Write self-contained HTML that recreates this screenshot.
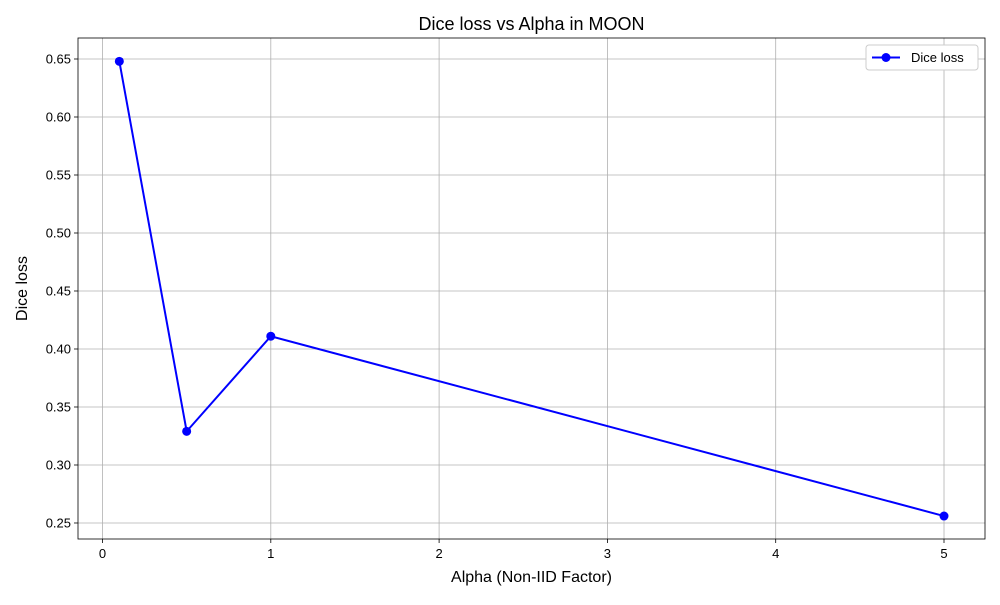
<!DOCTYPE html>
<html><head><meta charset="utf-8"><style>
body{margin:0;background:#fff;}
svg text{font-family:"Liberation Sans","DejaVu Sans",sans-serif;}
</style></head><body>
<svg id="c" width="1000" height="600" xmlns="http://www.w3.org/2000/svg"></svg>
<script>
const xs = [0.1, 0.5, 1, 5];
const ys = [0.648, 0.329, 0.411, 0.256];
const xTicks = [0, 1, 2, 3, 4, 5];
const yTicks = [0.25, 0.30, 0.35, 0.40, 0.45, 0.50, 0.55, 0.60, 0.65];
const L=78,R=985,T=38,B=539;
const x0=-0.1456,x1=5.2436,y0=0.2362,y1=0.6681;
const X=v=>L+(v-x0)/(x1-x0)*(R-L);
const Y=v=>B-(v-y0)/(y1-y0)*(B-T);
const svg=document.getElementById('c');
const NS='http://www.w3.org/2000/svg';
function mk(tag,attrs,text){const e=document.createElementNS(NS,tag);for(const k in attrs)e.setAttribute(k,attrs[k]);if(text!==undefined)e.textContent=text;svg.appendChild(e);return e;}
xTicks.forEach(t=>{
  const g=mk('line',{x1:X(t),x2:X(t),y1:T,y2:B,stroke:'#b0b0b0','stroke-width':0.8});
  
  
  mk('line',{x1:X(t),x2:X(t),y1:B,y2:B+4,stroke:'#000','stroke-width':0.8});
  const l=mk('text',{x:X(t),y:B+19,'font-size':13,'text-anchor':'middle'},String(t));
  
  
});
yTicks.forEach(t=>{
  const g=mk('line',{x1:L,x2:R,y1:Y(t),y2:Y(t),stroke:'#b0b0b0','stroke-width':0.8});
  
  
  mk('line',{x1:L-4,x2:L,y1:Y(t),y2:Y(t),stroke:'#000','stroke-width':0.8});
  const l=mk('text',{x:L-7,y:Y(t)+4.5,'font-size':13,'text-anchor':'end'},t.toFixed(2));
  
  
});
const pl=mk('polyline',{points:xs.map((v,i)=>X(v)+','+Y(ys[i])).join(' '),fill:'none',stroke:'#0000ff','stroke-width':2});


xs.forEach((v,i)=>{
  const c=mk('circle',{cx:X(v),cy:Y(ys[i]),r:4.5,fill:'#0000ff'});
  
  
});
const fr=mk('rect',{x:L,y:T,width:R-L,height:B-T,fill:'none',stroke:'#000','stroke-width':0.8});


const tt=mk('text',{x:(L+R)/2,y:30,'font-size':18,'text-anchor':'middle'},'Dice loss vs Alpha in MOON');


const xt=mk('text',{x:(L+R)/2,y:582,'font-size':16,'text-anchor':'middle'},'Alpha (Non-IID Factor)');


const yt=mk('text',{x:0,y:0,'font-size':16,'text-anchor':'middle',transform:'translate(27,'+((T+B)/2)+') rotate(-90)'},'Dice loss');


const lg=mk('rect',{x:866,y:45,width:112,height:25,rx:3,fill:'#fff',stroke:'#ccc','stroke-width':1});


mk('line',{x1:872,x2:900,y1:57.5,y2:57.5,stroke:'#0000ff','stroke-width':2});
mk('circle',{cx:886,cy:57.5,r:4.5,fill:'#0000ff'});
const le=mk('text',{x:911,y:62,'font-size':13},'Dice loss');


</script>
</body></html>
